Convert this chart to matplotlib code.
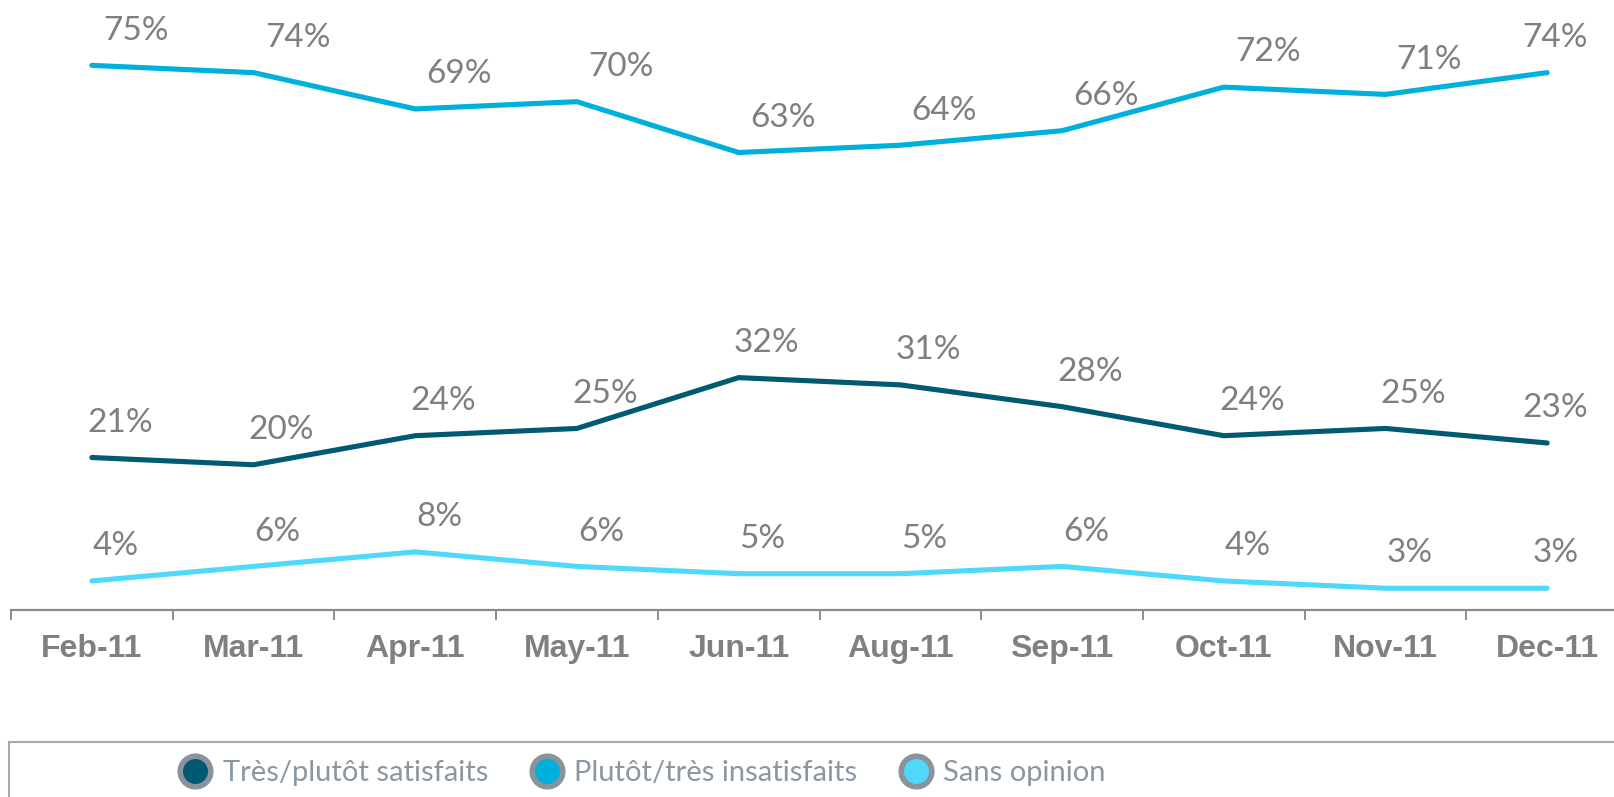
import matplotlib.pyplot as plt
from matplotlib.lines import Line2D
from matplotlib.patches import Rectangle

months = ['Feb-11', 'Mar-11', 'Apr-11', 'May-11', 'Jun-11',
          'Aug-11', 'Sep-11', 'Oct-11', 'Nov-11', 'Dec-11']
satisfaits = [21, 20, 24, 25, 32, 31, 28, 24, 25, 23]
insatisfaits = [75, 74, 69, 70, 63, 64, 66, 72, 71, 74]
sans_opinion = [4, 6, 8, 6, 5, 5, 6, 4, 3, 3]
series_names = ['Très/plutôt satisfaits', 'Plutôt/très insatisfaits', 'Sans opinion']

colors = ['#005a72', '#00b0dc', '#50d8fa']
label_dx = [28, 44, 24]   # px offset of value labels, per series

W, H = 1614, 797
fig = plt.figure(figsize=(W / 100, H / 100), dpi=100)
# axes runs off the right edge, like the original
ax = fig.add_axes([11 / W, (H - 610) / H, 1617 / W, 610 / H])

x = list(range(len(months)))
for vals, col, dx in zip([satisfaits, insatisfaits, sans_opinion], colors, label_dx):
    ax.plot(x, vals, color=col, lw=3.7, solid_capstyle='round', solid_joinstyle='round')
    for xi, v in zip(x, vals):
        d = dx if xi < len(x) - 1 else 8   # last label pulled back inside
        ax.annotate(f'{v}%', (xi, v), xytext=(d * 0.72, 25), textcoords='offset points',
                    ha='center', va='center', fontsize=24, color='#7f7f7f',
                    family='Lato')

ax.set_xlim(-0.5, 9.5)
ax.set_ylim(0, 84)
for s in ['top', 'right', 'left']:
    ax.spines[s].set_visible(False)
ax.spines['bottom'].set_color('#8c8c8c')
ax.spines['bottom'].set_linewidth(1.6)
ax.set_yticks([])
ax.set_xticks([i - 0.5 for i in range(len(months) + 1)])
ax.set_xticklabels([])
ax.tick_params(axis='x', which='major', direction='out', length=7, width=1.4, color='#8c8c8c')
ax.set_xticks(x, minor=True)
ax.set_xticklabels(months, minor=True, fontsize=23, fontweight='bold',
                   color='#808080', family='Liberation Sans')
ax.tick_params(axis='x', which='minor', length=0, pad=17)

# legend box
fig.patches.append(Rectangle((9 / W, -0.1), 1.1, (H - 742) / H + 0.1,
                             transform=fig.transFigure, fill=False,
                             edgecolor='#a2aab2', lw=1.5))
handles = [Line2D([], [], ls='none', marker='o', markersize=22, markerfacecolor=c,
                  markeredgecolor='#8a939b', markeredgewidth=4) for c in colors]
fig.legend(handles, series_names, loc='center left', bbox_to_anchor=(166 / W, (H - 773) / H),
           ncol=3, frameon=False, handlelength=1.0, handletextpad=0.45, columnspacing=1.5,
           prop={'family': 'Lato', 'size': 21}, labelcolor='#8a96a0', borderpad=0)

fig.savefig('out.png', dpi=100)
